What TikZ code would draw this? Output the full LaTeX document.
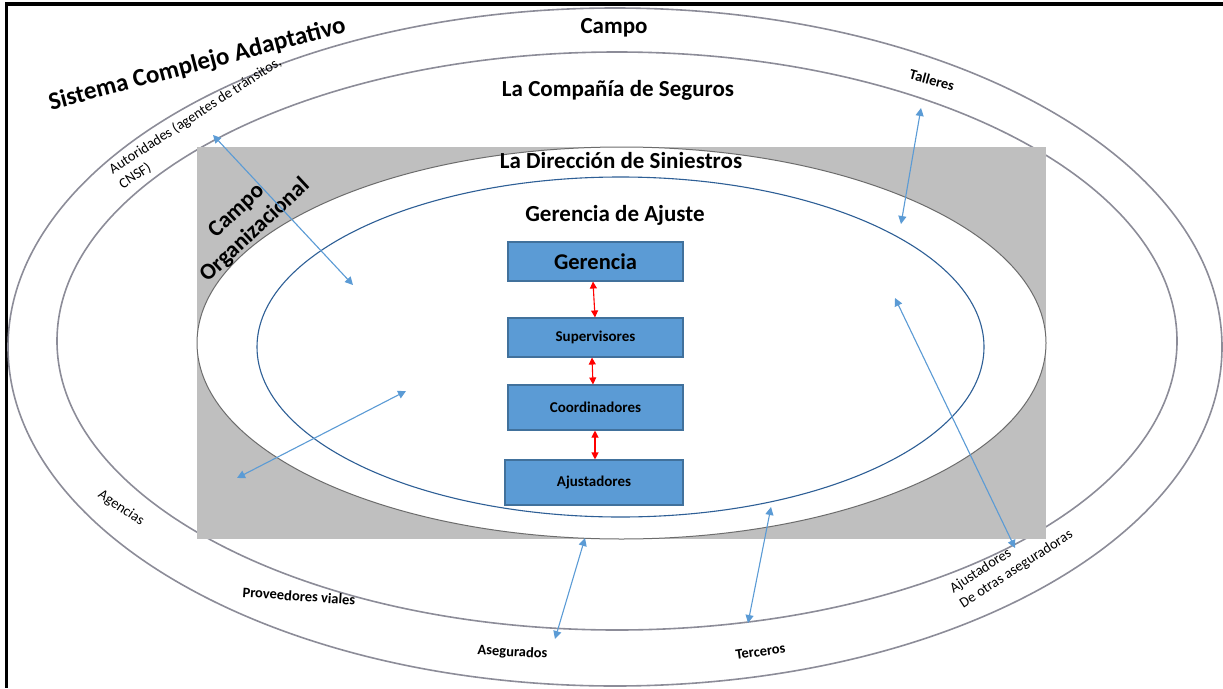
\documentclass[tikz,border=0pt]{standalone}
\usepackage{fontspec}
\setmainfont{Carlito}
\usetikzlibrary{arrows.meta}
\definecolor{ringc}{RGB}{140,140,152}
\definecolor{grayfill}{RGB}{191,191,191}
\definecolor{boxfill}{RGB}{91,155,213}
\definecolor{boxline}{RGB}{65,113,156}
\definecolor{innerc}{RGB}{46,95,150}
\definecolor{arrc}{RGB}{91,155,213}
\begin{document}
\begin{tikzpicture}[x=1pt,y=-1pt,
  ring/.style={draw=ringc,line width=1.6pt},
  box/.style={draw=boxline,fill=boxfill,line width=1.1pt,inner sep=0pt,minimum width=175pt},
  barrow/.style={draw=arrc,line width=1.1pt,{Triangle[width=8pt,length=8pt]}-{Triangle[width=8pt,length=8pt]}},
  rarrow/.style={draw=red,line width=1.1pt,{Triangle[width=7pt,length=7pt]}-{Triangle[width=7pt,length=7pt]}},
  big/.style={font=\fontsize{23}{27}\selectfont\bfseries},
  lbl/.style={font=\fontsize{14.5}{17}\selectfont},
  lblb/.style={font=\fontsize{14.5}{17}\selectfont\bfseries},
  boxt/.style={font=\fontsize{15}{18}\selectfont\bfseries}
]
\useasboundingbox (0,0) rectangle (1223,688);
% frame
\draw[line width=3.5pt] (5,4) -- (1223,4);
\draw[line width=3.3pt] (6.7,2.5) -- (6.7,688);
% rings
\draw[ring] (615,347) ellipse [x radius=607, y radius=339];
\draw[ring] (617,341) ellipse [x radius=560, y radius=289];
% organisational field
\fill[grayfill] (197,147) rectangle (1046,539);
\draw[draw=gray!85!black,fill=white,line width=1pt] (621.5,343) ellipse [x radius=424.5, y radius=196];
\draw[innerc,line width=1.1pt] (620.5,347) ellipse [x radius=363.5, y radius=170];
% boxes
\node[box,minimum height=39pt,font=\fontsize{22.5}{26}\selectfont\bfseries] (ger) at (595.5,261.5) {Gerencia};
\node[box,boxt,minimum height=39pt] (sup) at (595.5,337.5) {Supervisores};
\node[box,boxt,minimum height=45pt] (coo) at (595.5,407.5) {Coordinadores};
\node[box,boxt,minimum height=45pt,minimum width=178pt] (aju) at (594,482.5) {Ajustadores};
\draw[rarrow] ([xshift=-2.5pt]ger.south) -- ([xshift=-0.5pt]sup.north);
\draw[rarrow] ([xshift=-3.5pt]sup.south) -- ([xshift=-2.5pt]coo.north);
\draw[rarrow] ([xshift=-0.5pt]coo.south) -- ([xshift=1pt]aju.north);
% texts
\node[big,anchor=base] (tcampo) at (614,33) {Campo};
\node[big,anchor=base] (tcomp) at (618,96) {La Compañía de Seguros};
\node[big,anchor=base] (tdir) at (621,168) {La Dirección de Siniestros};
\node[big,anchor=base] (tgaj) at (615,221) {Gerencia de Ajuste};
\node[font=\fontsize{25}{29}\selectfont\bfseries,anchor=base,rotate=14.8] (tsis) at (199,71) {Sistema Complejo Adaptativo};
\node[big,align=center,rotate=43] (tcorg) at (246,221) {Campo\\Organizacional};
\node[lbl,anchor=base west,rotate=33] (taut1) at (110,176) {Autoridades (agentes de tránsitos,};
\node[lbl,anchor=base west,rotate=33] (taut2) at (119.8,191.1) {CNSF)};
\node[lblb,rotate=-15] (ttal) at (932,80) {Talleres};
\node[lbl,rotate=-34] (tage) at (121,508) {Agencias};
\node[lblb,rotate=-4] (tprov) at (299,596) {Proveedores viales};
\node[lblb,rotate=-3] (taseg) at (512.5,652.5) {Asegurados};
\node[lblb,rotate=8] (tter) at (760.5,651.5) {Terceros};
\node[lbl,anchor=base west,rotate=33] (tajo1) at (950.7,595) {Ajustadores};
\node[lbl,anchor=base west,rotate=33] (tajo2) at (960.5,610) {De otras aseguradoras};
% blue arrows
\coordinate (a1) at (213,135); \coordinate (b1) at (353,285);
\coordinate (a2) at (921,108); \coordinate (b2) at (901,224);
\coordinate (a3) at (406,391); \coordinate (b3) at (237,478);
\coordinate (a4) at (895,298); \coordinate (b4) at (1015,548);
\coordinate (a5) at (585,538); \coordinate (b5) at (555,639);
\coordinate (a6) at (771,507); \coordinate (b6) at (748,623);
\draw[barrow] (a1) -- (b1);
\draw[barrow] (a2) -- (b2);
\draw[barrow] (a3) -- (b3);
\draw[barrow] (a4) -- (b4);
\draw[barrow] (a5) -- (b5);
\draw[barrow] (a6) -- (b6);
\end{tikzpicture}
\end{document}
